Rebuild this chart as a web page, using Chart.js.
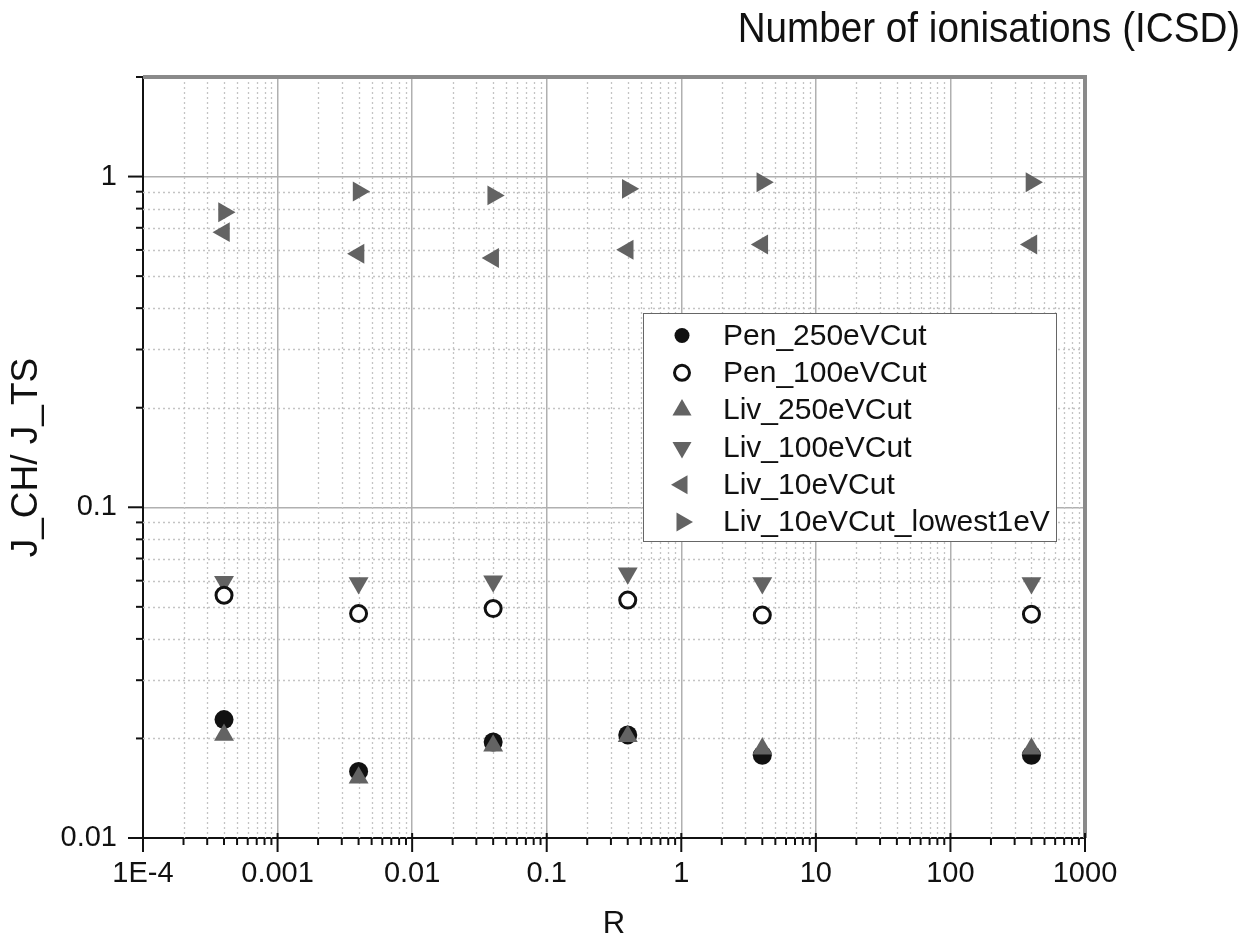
<!DOCTYPE html>
<html>
<head>
<meta charset="utf-8">
<script src="https://cdn.jsdelivr.net/npm/chart.js@4/dist/chart.umd.min.js"></script>
<style>
  body { margin: 0; background: #fff; }
  #wrap { position: relative; width: 1256px; height: 943px; }
  #title {
    position: absolute; right: 16px; top: 7px;
    font-family: "Liberation Sans", Arial, sans-serif; font-size: 42px; line-height: 42px;
    color: #111; transform: scaleX(0.92); transform-origin: right top; white-space: nowrap;
  }
</style>
</head>
<body>
<div id="wrap">
  <canvas id="chart" width="1256" height="943"></canvas>
  <div id="title">Number of ionisations (ICSD)</div>
</div>
<script>
// R values (same for every series)
const rValues = [4e-4, 4e-3, 4e-2, 0.4, 4, 400];

const pen250 = [0.0228, 0.0159, 0.0195, 0.0205, 0.0178, 0.0178];
const pen100 = [0.0542, 0.0477, 0.0494, 0.0524, 0.0472, 0.0475];
const liv250 = [0.0205, 0.0152, 0.0190, 0.0203, 0.0186, 0.0186];
const liv100 = [0.0595, 0.0590, 0.0597, 0.0632, 0.0590, 0.0590];
const liv10 = [0.679, 0.584, 0.567, 0.601, 0.623, 0.623];
const liv10Lowest = [0.780, 0.901, 0.877, 0.918, 0.961, 0.961];

const seriesNames = ['Pen_250eVCut', 'Pen_100eVCut', 'Liv_250eVCut', 'Liv_100eVCut', 'Liv_10eVCut', 'Liv_10eVCut_lowest1eV'];

const xMin = 1e-4, xMax = 1000;
const yMin = 0.01, yMax = 2;

const GREY = '#636363';
const FONT = '"Liberation Sans", Arial, sans-serif';

function pts(ys) {
    return rValues.map((x, i) => ({ x: x, y: ys[i] }));
}

function isDecade(v) {
    const l = Math.log10(v);
    return Math.abs(l - Math.round(l)) < 1e-9;
}

// 1..9 x 10^n between min and max
function logTicks(min, max) {
    const out = [];
    for (let e = Math.floor(Math.log10(min)); e <= Math.ceil(Math.log10(max)); e++) {
        for (let m = 1; m <= 9; m++) {
            const v = parseFloat((m * Math.pow(10, e)).toPrecision(6));
            if (v >= min * 0.999999 && v <= max * 1.000001) out.push({ value: v });
        }
    }
    return out;
}

function xLabel(v) {
    if (!isDecade(v)) return '';
    if (v < 1e-3 * 0.999) return '1E' + Math.round(Math.log10(v));
    return String(parseFloat(v.toPrecision(3)));
}

const datasets = [
    { label: seriesNames[0], data: pts(pen250), pointStyle: 'circle', pointRadius: 9.5, backgroundColor: '#111', borderColor: '#111', borderWidth: 0, order: 3 },
    { label: seriesNames[1], data: pts(pen100), pointStyle: 'circle', pointRadius: 8, backgroundColor: '#fff', borderColor: '#111', borderWidth: 3, order: 1 },
    { label: seriesNames[2], data: pts(liv250), pointStyle: 'triangle', pointRotation: 0, pointRadius: 11.5, backgroundColor: GREY, borderColor: GREY, borderWidth: 0, order: 0 },
    { label: seriesNames[3], data: pts(liv100), pointStyle: 'triangle', pointRotation: 180, pointRadius: 11.5, backgroundColor: GREY, borderColor: GREY, borderWidth: 0, order: 2 },
    { label: seriesNames[4], data: pts(liv10), pointStyle: 'triangle', pointRotation: 270, pointRadius: 11.5, backgroundColor: GREY, borderColor: GREY, borderWidth: 0, order: 4 },
    { label: seriesNames[5], data: pts(liv10Lowest), pointStyle: 'triangle', pointRotation: 90, pointRadius: 11.5, backgroundColor: GREY, borderColor: GREY, borderWidth: 0, order: 5 }
];

// dotted minor grid, frame, tick marks and the boxed legend
const framePlugin = {
    id: 'frame',
    beforeDatasetsDraw(chart) {
        const { ctx, chartArea: a, scales } = chart;
        ctx.save();
        ctx.strokeStyle = '#c4c4c4';
        ctx.lineWidth = 1.3;
        ctx.setLineDash([2, 3]);
        scales.x.ticks.forEach(t => {
            if (isDecade(t.value)) return;
            const px = Math.round(scales.x.getPixelForValue(t.value)) + 0.5;
            ctx.beginPath(); ctx.moveTo(px, a.top); ctx.lineTo(px, a.bottom); ctx.stroke();
        });
        scales.y.ticks.forEach(t => {
            if (isDecade(t.value)) return;
            const py = Math.round(scales.y.getPixelForValue(t.value)) + 0.5;
            ctx.beginPath(); ctx.moveTo(a.left, py); ctx.lineTo(a.right, py); ctx.stroke();
        });
        ctx.setLineDash([]);

        // top and right frame
        ctx.strokeStyle = '#8a8a8a';
        ctx.lineWidth = 4;
        ctx.beginPath();
        ctx.moveTo(a.left, a.top);
        ctx.lineTo(a.right, a.top);
        ctx.lineTo(a.right, a.bottom);
        ctx.stroke();

        // tick marks
        ctx.strokeStyle = '#111';
        ctx.lineWidth = 2;
        scales.x.ticks.forEach(t => {
            const px = scales.x.getPixelForValue(t.value);
            const major = isDecade(t.value);
            ctx.beginPath();
            ctx.moveTo(px, a.bottom - (major ? 5 : 0));
            ctx.lineTo(px, a.bottom + (major ? 14 : 7));
            ctx.stroke();
        });
        scales.y.ticks.forEach(t => {
            const py = scales.y.getPixelForValue(t.value);
            const major = isDecade(t.value);
            ctx.beginPath();
            ctx.moveTo(a.left - (major ? 15 : 7), py);
            ctx.lineTo(a.left, py);
            ctx.stroke();
        });
        ctx.restore();
    },
    afterDatasetsDraw(chart) {
        const ctx = chart.ctx;
        const bx = 643.5, by = 313.5, bw = 413, bh = 228;
        ctx.save();
        ctx.fillStyle = '#fff';
        ctx.fillRect(bx, by, bw, bh);
        ctx.strokeStyle = '#666';
        ctx.lineWidth = 1;
        ctx.strokeRect(bx, by, bw, bh);
        ctx.font = '30px ' + FONT;
        ctx.textBaseline = 'middle';
        ctx.textAlign = 'left';
        chart.data.datasets.forEach((ds, i) => {
            const cy = by + 22 + i * 37.3;
            const cx = 682;
            ctx.fillStyle = ds.backgroundColor;
            ctx.strokeStyle = ds.borderColor;
            ctx.lineWidth = ds.borderWidth;
            const opts = {
                pointStyle: ds.pointStyle,
                radius: ds.pointStyle === 'circle' ? 7.5 : 11,
                rotation: ds.pointRotation || 0,
                borderWidth: ds.borderWidth
            };
            if (Chart.helpers && Chart.helpers.drawPoint) {
                Chart.helpers.drawPoint(ctx, opts, cx, cy);
            }
            ctx.fillStyle = '#111';
            ctx.fillText(ds.label, 723, cy + 1);
        });
        ctx.restore();
    }
};

const ctx = document.getElementById('chart').getContext('2d');
new Chart(ctx, {
    type: 'scatter',
    data: { datasets: datasets },
    options: {
        responsive: false,
        animation: false,
        devicePixelRatio: 1,
        layout: { padding: { left: 0, top: 77, right: 171, bottom: 0 } },
        plugins: {
            legend: { display: false },
            tooltip: { enabled: false }
        },
        scales: {
            x: {
                type: 'logarithmic',
                min: xMin,
                max: xMax,
                afterBuildTicks: (s) => { s.ticks = logTicks(xMin, xMax); },
                afterFit: (s) => { s.height = 105; },
                grid: {
                    drawTicks: false,
                    color: (c) => (c.tick && isDecade(c.tick.value)) ? '#b0b0b0' : 'rgba(0,0,0,0)',
                    lineWidth: 1.5
                },
                border: { color: '#111', width: 2 },
                ticks: {
                    autoSkip: false,
                    maxRotation: 0,
                    padding: 19,
                    color: '#111',
                    font: { family: FONT, size: 29 },
                    callback: (v) => xLabel(v)
                },
                title: {
                    display: true,
                    text: 'R',
                    color: '#111',
                    font: { family: FONT, size: 31, lineHeight: 1.2 },
                    padding: { top: 0, bottom: 0 }
                }
            },
            y: {
                type: 'logarithmic',
                min: yMin,
                max: yMax,
                afterBuildTicks: (s) => { s.ticks = logTicks(yMin, yMax); },
                afterFit: (s) => { s.width = 143; },
                grid: {
                    drawTicks: false,
                    color: (c) => (c.tick && isDecade(c.tick.value)) ? '#b0b0b0' : 'rgba(0,0,0,0)',
                    lineWidth: 1.5
                },
                border: { color: '#111', width: 2 },
                ticks: {
                    autoSkip: false,
                    padding: 26,
                    color: '#111',
                    font: { family: FONT, size: 29 },
                    callback: (v) => isDecade(v) ? String(parseFloat(v.toPrecision(3))) : ''
                },
                title: {
                    display: true,
                    text: 'J_CH/ J_TS',
                    color: '#111',
                    font: { family: FONT, size: 37, lineHeight: 1.2 },
                    padding: { top: 5, bottom: 0 }
                }
            }
        }
    },
    plugins: [framePlugin]
});
</script>
</body>
</html>
